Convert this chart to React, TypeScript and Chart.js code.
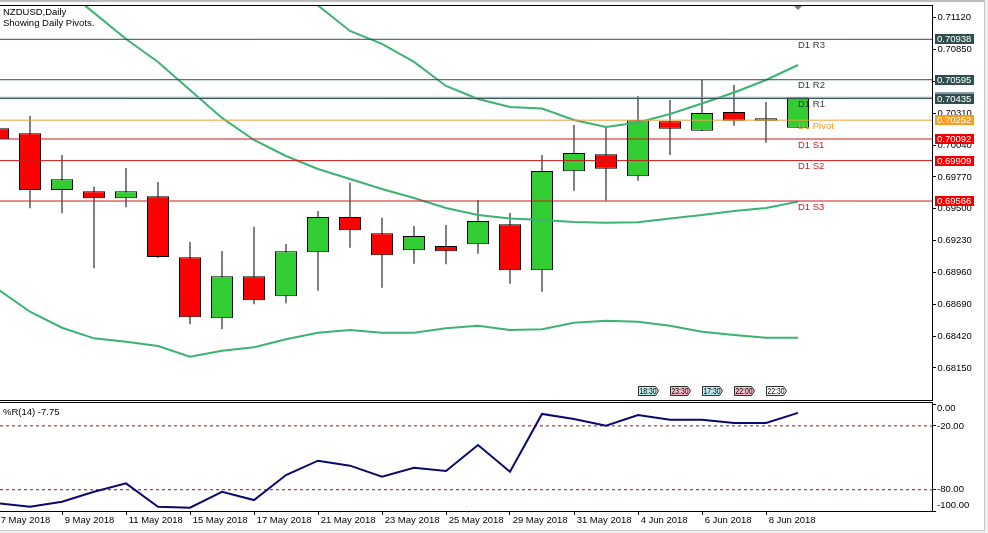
import { useEffect, useRef } from 'react';
import { Chart, registerables } from 'chart.js';

Chart.register(...registerables);

// ---------------- data ----------------
const titleLine1 = 'NZDUSD,Daily';
const titleLine2 = 'Showing Daily Pivots.';
const wprTitle = '%R(14) -7.75';

const dates = [
  '7 May 2018', '8 May 2018', '9 May 2018', '10 May 2018', '11 May 2018',
  '14 May 2018', '15 May 2018', '16 May 2018', '17 May 2018', '18 May 2018',
  '21 May 2018', '22 May 2018', '23 May 2018', '24 May 2018', '25 May 2018',
  '28 May 2018', '29 May 2018', '30 May 2018', '31 May 2018', '1 Jun 2018',
  '4 Jun 2018', '5 Jun 2018', '6 Jun 2018', '7 Jun 2018', '8 Jun 2018', '11 Jun 2018',
];

const opens = [0.70183, 0.70141, 0.69660, 0.69649, 0.69589, 0.69606, 0.69089, 0.68571, 0.68928, 0.68758, 0.69131, 0.69431, 0.69292, 0.69148, 0.69185, 0.69199, 0.69369, 0.68978, 0.69818, 0.69963, 0.69776, 0.70243, 0.70163, 0.70322, 0.70248, 0.70188];
const highs = [0.70254, 0.70288, 0.69957, 0.69688, 0.69846, 0.69728, 0.69219, 0.69142, 0.69348, 0.69202, 0.69482, 0.69722, 0.69425, 0.69354, 0.69363, 0.69575, 0.69465, 0.69957, 0.70211, 0.70188, 0.70457, 0.70423, 0.70593, 0.70551, 0.70406, 0.70446];
const lows = [0.70042, 0.69505, 0.69462, 0.68995, 0.69513, 0.69083, 0.68520, 0.68478, 0.68690, 0.68698, 0.68805, 0.69170, 0.68831, 0.69034, 0.69029, 0.69119, 0.68865, 0.68797, 0.69654, 0.69569, 0.69739, 0.69957, 0.70160, 0.70205, 0.70061, 0.70188];
const closes = [0.70090, 0.69660, 0.69751, 0.69589, 0.69649, 0.69091, 0.68580, 0.68928, 0.68724, 0.69140, 0.69431, 0.69318, 0.69106, 0.69269, 0.69140, 0.69397, 0.68978, 0.69821, 0.69974, 0.69840, 0.70251, 0.70180, 0.70313, 0.70248, 0.70268, 0.70446];

const upperBand = [0.74776, 0.74564, 0.74276, 0.73919, 0.73512, 0.73156, 0.72774, 0.72248, 0.71840, 0.71501, 0.71225, 0.71009, 0.70899, 0.70746, 0.70542, 0.70432, 0.70364, 0.70351, 0.70254, 0.70194, 0.70233, 0.70305, 0.70394, 0.70487, 0.70593, 0.70720];
const middleBand = [0.71798, 0.71594, 0.71382, 0.71162, 0.70941, 0.70746, 0.70508, 0.70271, 0.70084, 0.69948, 0.69838, 0.69753, 0.69668, 0.69592, 0.69507, 0.69448, 0.69418, 0.69405, 0.69388, 0.69382, 0.69386, 0.69418, 0.69448, 0.69482, 0.69507, 0.69561];
const lowerBand = [0.68817, 0.68627, 0.68491, 0.68401, 0.68373, 0.68336, 0.68245, 0.68296, 0.68325, 0.68393, 0.68449, 0.68472, 0.68449, 0.68449, 0.68486, 0.68508, 0.68472, 0.68478, 0.68534, 0.68551, 0.68542, 0.68508, 0.68457, 0.68429, 0.68406, 0.68406];

const wpr = [-92.8, -96.0, -91.3, -81.9, -74.0, -96.0, -96.9, -81.9, -89.7, -66.2, -52.7, -57.4, -67.8, -59.3, -62.4, -38.0, -63.1, -8.8, -13.5, -19.8, -9.8, -14.2, -14.2, -17.3, -17.3, -7.75];
const wprLevels = [-20, -80];
const wprTicks = [0, -20, -80, -100];

const pivotNames = ['D1 R3', 'D1 R2', 'D1 R1', 'D1 Pivot', 'D1 S1', 'D1 S2', 'D1 S3'];
const pivotValues = [0.70938, 0.70595, 0.70435, 0.70252, 0.70092, 0.69909, 0.69566];
const pivotKinds = ['R', 'R', 'R', 'P', 'S', 'S', 'S'];
const bidPrice = 0.70446;

const priceTicks = [0.7112, 0.7085, 0.7058, 0.7031, 0.7004, 0.6977, 0.695, 0.6923, 0.6896, 0.6869, 0.6842, 0.6815];

const timeBarIdx = [20, 21, 22, 23, 24];
const timeLabels = ['18:30', '23:30', '17:30', '22:00', '22:30'];
const timeKinds = ['c', 'p', 'c', 'p', 'w'];

// ---------------- styles ----------------
const FONT = '"Liberation Sans", Arial, sans-serif';
const FS = 9.5;
const X_MIN = 0.0625;
const X_MAX = 29.1875;
const Y_MIN = 0.67878;
const Y_MAX = 0.71229;
const UP = '#32CD32';
const DOWN = '#FF0000';
const BAND = '#3CB371';
const lineColor: Record<string, string> = { R: '#2F4F4F', P: '#EBA134', S: '#D01818' };
const boxColor: Record<string, string> = { R: '#2F4F4F', P: '#F5A020', S: '#F00000' };
const textColor: Record<string, string> = { R: '#3A3A3A', P: '#EE9A1E', S: '#D01818' };
const timeFill: Record<string, string> = { c: '#BDEBEB', p: '#F6BCC8', w: '#FFFFFF' };

const mainPlugin = {
  id: 'mainDecor',
  afterDraw(chart: any) {
    const { ctx, chartArea: a, scales } = chart;
    const xs = scales.x;
    const ys = scales.y;
    ctx.save();
    // window frame strips
    ctx.fillStyle = '#BDBDBD';
    ctx.fillRect(0, 0, 984, 2);
    ctx.fillStyle = '#F0F0F0';
    ctx.fillRect(984, 0, 4, chart.height);
    ctx.fillStyle = '#C8C8C8';
    ctx.fillRect(984, 0, 1, chart.height);
    // plot borders
    ctx.fillStyle = '#000';
    ctx.fillRect(0, a.top, a.right + 1, 1);
    ctx.fillRect(0, a.bottom, a.right + 1, 1);

    // title
    ctx.font = `${FS}px ${FONT}`;
    ctx.textBaseline = 'middle';
    ctx.textAlign = 'left';
    ctx.fillStyle = '#000';
    ctx.fillText(titleLine1, 3, 12.5);
    ctx.fillText(titleLine2, 3, 23.5);

    const lastX = xs.getPixelForValue(dates.length - 1);

    // pivot names
    pivotNames.forEach((n, i) => {
      const y = ys.getPixelForValue(pivotValues[i]);
      ctx.fillStyle = textColor[pivotKinds[i]];
      ctx.fillText(n, lastX, y + 6);
    });

    // shift triangle
    ctx.fillStyle = '#7A7A7A';
    ctx.beginPath();
    ctx.moveTo(lastX - 4, 6);
    ctx.lineTo(lastX + 4, 6);
    ctx.lineTo(lastX, 10);
    ctx.closePath();
    ctx.fill();

    // price boxes on axis
    const drawBox = (v: number, fill: string) => {
      const y = ys.getPixelForValue(v);
      ctx.fillStyle = fill;
      ctx.fillRect(935, Math.round(y) - 5, 39, 10);
      ctx.fillStyle = '#FFF';
      ctx.fillText(v.toFixed(5), 937, Math.round(y) + 0.5);
    };
    drawBox(bidPrice, '#8A9AA8');
    pivotValues.forEach((v, i) => drawBox(v, boxColor[pivotKinds[i]]));

    // time labels
    ctx.font = `9px ${FONT}`;
    timeBarIdx.forEach((bi, i) => {
      const x0 = Math.round(xs.getPixelForValue(bi)) + 0.5;
      const t = 386.5;
      const h = 9;
      ctx.beginPath();
      ctx.moveTo(x0, t);
      ctx.lineTo(x0 + 17, t);
      ctx.lineTo(x0 + 20, t + h / 2);
      ctx.lineTo(x0 + 17, t + h);
      ctx.lineTo(x0, t + h);
      ctx.closePath();
      ctx.fillStyle = timeFill[timeKinds[i]];
      ctx.fill();
      ctx.strokeStyle = '#303030';
      ctx.lineWidth = 1;
      ctx.stroke();
      ctx.fillStyle = '#000';
      ctx.save();
      ctx.translate(x0 + 1, t + h / 2 + 0.5);
      ctx.scale(0.76, 1);
      ctx.fillText(timeLabels[i], 0, 0);
      ctx.restore();
    });
    ctx.restore();
  },
};

const lowerPlugin = {
  id: 'lowerDecor',
  afterDraw(chart: any) {
    const { ctx, chartArea: a, scales } = chart;
    const ys = scales.y;
    ctx.save();
    ctx.fillStyle = '#F0F0F0';
    ctx.fillRect(984, 0, 4, chart.height);
    ctx.fillRect(0, 129, 988, 3);
    ctx.fillStyle = '#C8C8C8';
    ctx.fillRect(984, 0, 1, 129);
    ctx.fillRect(0, 129, 985, 1);
    ctx.fillStyle = '#000';
    ctx.fillRect(0, a.top - 1, a.right + 1, 1);

    ctx.font = `${FS}px ${FONT}`;
    ctx.textBaseline = 'middle';
    ctx.textAlign = 'left';
    ctx.fillText(wprTitle, 3, 11.5);

    wprTicks.forEach((v) => {
      const p = ys.getPixelForValue(v);
      ctx.fillRect(a.right, Math.round(p - 0.5), 4, 1);
      const ly = Math.min(Math.max(p, a.top + 5.5), a.bottom - 5.5);
      ctx.fillText(v.toFixed(2), 937, ly);
    });
    ctx.restore();
  },
};

export default function App() {
  const topRef = useRef<HTMLCanvasElement>(null);
  const botRef = useRef<HTMLCanvasElement>(null);

  useEffect(() => {
    const idx = dates.map((_, i) => i);
    const bodyData = idx.map((i) => ({ x: i, y: [opens[i], closes[i]] }));
    const wickData = idx.map((i) => ({ x: i, y: [lows[i], highs[i]] }));
    const bodyColors = idx.map((i) => (closes[i] >= opens[i] ? UP : DOWN));
    const band = (arr: number[]) => ({
      type: 'line' as const,
      data: idx.map((i) => ({ x: i, y: arr[i] })),
      borderColor: BAND,
      borderWidth: 2,
      pointRadius: 0,
      tension: 0,
      order: 2,
    });
    const hline = (v: number, color: string, order: number, dash: number[] = [], w = 1) => ({
      type: 'line' as const,
      data: [{ x: X_MIN, y: v }, { x: X_MAX, y: v }],
      borderColor: color,
      borderWidth: w,
      borderDash: dash,
      pointRadius: 0,
      order,
    });

    const c1 = new Chart(topRef.current!, {
      type: 'bar',
      data: {
        datasets: [
          {
            type: 'bar', data: wickData as any, backgroundColor: '#000', borderWidth: 0,
            barThickness: 1, grouped: false, inflateAmount: 0, order: 4,
          } as any,
          {
            type: 'bar', data: bodyData as any, backgroundColor: bodyColors, borderColor: '#000',
            borderWidth: 1, borderSkipped: false, barThickness: 22, grouped: false, inflateAmount: 0, order: 3,
          } as any,
          band(upperBand),
          band(middleBand),
          band(lowerBand),
          hline(bidPrice, '#8A9AA8', 1),
          ...pivotValues.map((v, i) => hline(v, lineColor[pivotKinds[i]], 0)),
        ],
      },
      options: {
        responsive: false,
        animation: false,
        events: [],
        layout: { padding: { top: 5, right: 0, bottom: 1, left: 0 } },
        plugins: { legend: { display: false }, tooltip: { enabled: false } },
        scales: {
          x: { type: 'linear', min: X_MIN, max: X_MAX, display: false, offset: false, grid: { offset: false } },
          y: {
            type: 'linear',
            position: 'right',
            min: Y_MIN,
            max: Y_MAX,
            afterBuildTicks: (s: any) => { s.ticks = priceTicks.map((v) => ({ value: v })); },
            afterFit: (s: any) => { s.width = 56; s.paddingTop = 0; s.paddingBottom = 0; },
            ticks: {
              autoSkip: false,
              padding: 1.5,
              color: '#000',
              font: { family: FONT, size: FS },
              callback: (v: any) => Number(v).toFixed(5),
            },
            grid: { drawOnChartArea: false, tickLength: 4, color: '#000', tickColor: '#000' },
            border: { display: true, color: '#000', width: 1 },
          },
        },
      } as any,
      plugins: [mainPlugin],
    });

    const c2 = new Chart(botRef.current!, {
      type: 'line',
      data: {
        datasets: [
          {
            data: idx.map((i) => ({ x: i, y: wpr[i] })),
            borderColor: '#0A0A6E', borderWidth: 2, pointRadius: 0, tension: 0, order: 0,
          },
          ...wprLevels.map((v) => hline(v, '#7A1F1F', 1, [3, 3])),
        ] as any,
      },
      options: {
        responsive: false,
        animation: false,
        events: [],
        layout: { padding: { top: 2, right: 0, bottom: 0, left: 0 } },
        plugins: { legend: { display: false }, tooltip: { enabled: false } },
        scales: {
          x: {
            type: 'linear',
            position: 'bottom',
            min: X_MIN,
            max: X_MAX,
            offset: false,
            afterBuildTicks: (s: any) => {
              s.ticks = dates.map((_, i) => i).filter((i) => i % 2 === 0).map((v) => ({ value: v }));
            },
            afterFit: (s: any) => { s.height = 22; s.paddingLeft = 0; s.paddingRight = 0; },
            ticks: {
              autoSkip: false,
              maxRotation: 0,
              minRotation: 0,
              padding: 0,
              align: 'start',
              color: '#000',
              font: { family: FONT, size: FS },
              callback: (v: any) => ' ' + (dates[Number(v)] ?? ''),
            },
            grid: { drawOnChartArea: false, tickLength: 4, color: '#000', tickColor: '#000', offset: false },
            border: { display: true, color: '#000', width: 1 },
          },
          y: {
            type: 'linear',
            position: 'right',
            min: -100,
            max: 1.5,
            afterFit: (s: any) => { s.width = 56; s.paddingTop = 0; s.paddingBottom = 0; },
            ticks: { display: false },
            grid: { drawOnChartArea: false, drawTicks: false },
            border: { display: true, color: '#000', width: 1 },
          },
        },
      } as any,
      plugins: [lowerPlugin],
    });

    return () => {
      c1.destroy();
      c2.destroy();
    };
  }, []);

  return (
    <div style={{ position: 'fixed', left: 0, top: 0, width: 988, height: 533, background: '#fff', overflow: 'hidden' }}>
      <canvas ref={topRef} width={988} height={401}
        style={{ position: 'absolute', left: 0, top: 0, width: 988, height: 401 }} />
      <canvas ref={botRef} width={988} height={132}
        style={{ position: 'absolute', left: 0, top: 401, width: 988, height: 132 }} />
    </div>
  );
}
